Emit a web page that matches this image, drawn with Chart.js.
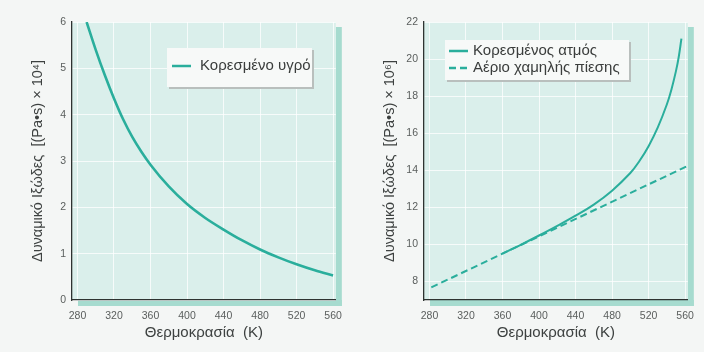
<!DOCTYPE html>
<html>
<head>
<meta charset="utf-8">
<script src="https://cdn.jsdelivr.net/npm/chart.js@4"></script>
<style>
  html, body { margin: 0; padding: 0; background: #f4f6f5; }
  .panel { position: absolute; top: 0; width: 352px; height: 352px; }
</style>
</head>
<body>
<div class="panel" style="left:0"><canvas id="liquid" width="352" height="352"></canvas></div>
<div class="panel" style="left:352px"><canvas id="vapor" width="352" height="352"></canvas></div>
<script>
// temperature ticks (K)
const tempTicks = [280, 320, 360, 400, 440, 480, 520, 560];

// saturated liquid, viscosity x 10^4 Pa·s
const liquidTemp = [290, 300, 310, 320, 330, 340, 350, 360, 380, 400, 420, 440, 460, 480, 500, 520, 540, 560];
const liquidVisc = [6.0, 5.4, 4.85, 4.35, 3.9, 3.52, 3.2, 2.92, 2.45, 2.07, 1.77, 1.52, 1.29, 1.09, 0.92, 0.77, 0.64, 0.53];

// saturated vapour, viscosity x 10^6 Pa·s
const vaporTemp = [360, 380, 400, 420, 440, 460, 480, 500, 510, 520, 530, 540, 545, 550, 553, 556];
const vaporVisc = [9.5, 9.98, 10.48, 11.0, 11.55, 12.15, 12.9, 13.85, 14.5, 15.3, 16.3, 17.55, 18.35, 19.35, 20.1, 21.1];

// low pressure gas
const gasTemp = [282, 563];
const gasVisc = [7.68, 14.24];

const TEAL = '#2aae9c';
const FONT = "'Liberation Sans', Arial, sans-serif";

function pts(xs, ys) { return xs.map((x, i) => ({ x: x, y: ys[i] })); }

const frame = {
  id: 'frame',
  beforeDraw(chart) {
    const { ctx, chartArea: a } = chart;
    ctx.save();
    ctx.fillStyle = '#f4f6f5';
    ctx.fillRect(0, 0, chart.width, chart.height);
    ctx.fillStyle = '#a6dbcf';
    ctx.fillRect(a.right, a.top + 5, 6, a.bottom - a.top + 1);
    ctx.fillRect(a.left + 6, a.bottom, a.right - a.left, 6);
    ctx.fillStyle = '#daefeb';
    ctx.fillRect(a.left, a.top, a.right - a.left, a.bottom - a.top);
    ctx.restore();
  }
};

const boxLegend = {
  id: 'boxLegend',
  afterDraw(chart, args, o) {
    const ctx = chart.ctx;
    ctx.save();
    ctx.fillStyle = '#b9bfbd';
    ctx.fillRect(o.x + 2, o.y + 2, o.w, o.h);
    ctx.fillStyle = '#f7f9f8';
    ctx.fillRect(o.x, o.y, o.w, o.h);
    ctx.font = '15px ' + FONT;
    ctx.textBaseline = 'middle';
    chart.data.datasets.forEach((ds, i) => {
      const cy = o.y + o.rowTop + i * o.rowGap;
      ctx.strokeStyle = ds.borderColor;
      ctx.lineWidth = 2.5;
      ctx.setLineDash(ds.borderDash || []);
      ctx.beginPath();
      ctx.moveTo(o.x + o.lineX, cy);
      ctx.lineTo(o.x + o.lineX + 19, cy);
      ctx.stroke();
      ctx.setLineDash([]);
      ctx.fillStyle = '#3a3d3c';
      ctx.fillText(ds.label, o.x + o.textX, cy);
    });
    ctx.restore();
  }
};

function makeChart(id, datasets, yMin, yMax, yStep, yTitle, legendOpts) {
  return new Chart(document.getElementById(id), {
    type: 'line',
    data: { datasets: datasets },
    plugins: [frame, boxLegend],
    options: {
      responsive: false,
      animation: false,
      layout: { padding: { left: 0, top: 22, right: 16, bottom: 0 } },
      elements: { point: { radius: 0 } },
      plugins: {
        legend: { display: false },
        tooltip: { enabled: false },
        boxLegend: legendOpts
      },
      scales: {
        x: {
          type: 'linear',
          min: 274,
          max: 563,
          afterBuildTicks: s => { s.ticks = tempTicks.map(v => ({ value: v })); },
          afterFit: s => { s.height = 52; },
          grid: { color: 'rgba(255,255,255,0.75)', drawTicks: false },
          border: { color: '#2e3331', width: 1.3 },
          ticks: { padding: 10, color: '#5a5e5d', font: { family: FONT, size: 10.5 } },
          title: { display: true, text: 'Θερμοκρασία  (K)', color: '#3d4140', padding: { top: 0, bottom: 10 }, font: { family: FONT, size: 15 } }
        },
        y: {
          min: yMin,
          max: yMax,
          afterBuildTicks: s => {
            const t = [];
            for (let v = Math.ceil(yMin / yStep) * yStep; v <= yMax; v += yStep) t.push({ value: v });
            s.ticks = t;
          },
          afterFit: s => { s.width = 72; },
          grid: { color: 'rgba(255,255,255,0.75)', drawTicks: false },
          border: { color: '#2e3331', width: 1.3 },
          ticks: { padding: 6, color: '#5a5e5d', font: { family: FONT, size: 10.5 } },
          title: { display: true, text: yTitle, color: '#3d4140', padding: { top: 29, bottom: 0 }, font: { family: FONT, size: 14.5 } }
        }
      }
    }
  });
}

makeChart('liquid', [
  { label: 'Κορεσμένο υγρό', data: pts(liquidTemp, liquidVisc), borderColor: TEAL, borderWidth: 2.6, cubicInterpolationMode: 'monotone' }
], 0, 6, 1, 'Δυναμικό Ιξώδες  [(Pa•s) × 10⁴]',
  { x: 167, y: 48, w: 145, h: 39, rowTop: 18, rowGap: 0, lineX: 5, textX: 33 });

makeChart('vapor', [
  { label: 'Κορεσμένος ατμός', data: pts(vaporTemp, vaporVisc), borderColor: TEAL, borderWidth: 2, tension: 0.4 },
  { label: 'Αέριο χαμηλής πίεσης', data: pts(gasTemp, gasVisc), borderColor: TEAL, borderWidth: 2, borderDash: [7, 4] }
], 7, 22, 2, 'Δυναμικό Ιξώδες  [(Pa•s) × 10⁶]',
  { x: 93, y: 40, w: 184, h: 40, rowTop: 11, rowGap: 17, lineX: 4, textX: 28 });
</script>
</body>
</html>
